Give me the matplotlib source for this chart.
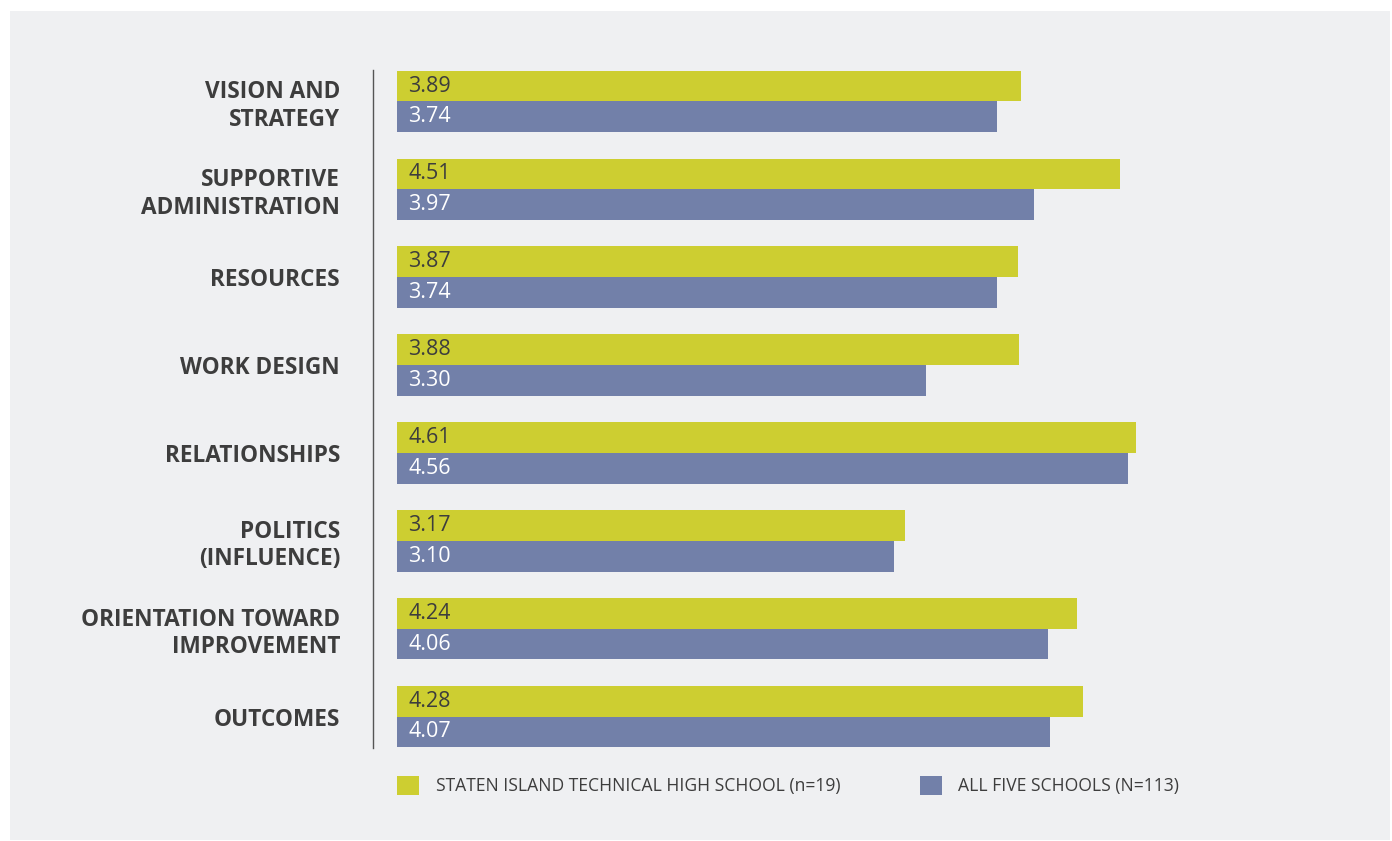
import numpy as np
import matplotlib.pyplot as plt
from matplotlib.patches import Rectangle

# Survey domain scores, one school vs. the five-school average
categories = [
    "VISION AND\nSTRATEGY",
    "SUPPORTIVE\nADMINISTRATION",
    "RESOURCES",
    "WORK DESIGN",
    "RELATIONSHIPS",
    "POLITICS\n(INFLUENCE)",
    "ORIENTATION TOWARD\nIMPROVEMENT",
    "OUTCOMES",
]
school_scores = [3.89, 4.51, 3.87, 3.88, 4.61, 3.17, 4.24, 4.28]
all_scores = [3.74, 3.97, 3.74, 3.30, 4.56, 3.10, 4.06, 4.07]
series_names = ["STATEN ISLAND TECHNICAL HIGH SCHOOL (n=19)", "ALL FIVE SCHOOLS (N=113)"]

YELLOW = "#cdce31"
BLUE = "#7280a9"
PANEL = "#eff0f2"
TEXT = "#3d3d3d"

W, H = 1392, 841
fig = plt.figure(figsize=(W / 100, H / 100), dpi=100, facecolor="white")
plt.rcParams['font.family'] = ['Open Sans', 'DejaVu Sans']

# light grey card behind the chart
fig.add_artist(Rectangle((10 / W, 1 - 840 / H), 1380 / W, 829 / H,
                         transform=fig.transFigure, facecolor=PANEL,
                         edgecolor="none", zorder=0))

# axes placed in pixel terms: bars start at x=396, rows span y=70..748
ax = fig.add_axes([396.5 / W, 1 - 748 / H, (1390 - 396.5) / W, (748 - 70) / H])
ax.set_facecolor("none")

y = np.arange(len(categories))
h = 0.35
ax.barh(y - h / 2, school_scores, height=h, color=YELLOW, label=series_names[0])
ax.barh(y + h / 2, all_scores, height=h, color=BLUE, label=series_names[1])

for yi, v in zip(y, school_scores):
    ax.annotate(f"{v:.2f}", (0, yi - h / 2), xytext=(8.3, 0), textcoords="offset points",
                va="center", ha="left", fontsize=15.5, color=TEXT)
for yi, v in zip(y, all_scores):
    ax.annotate(f"{v:.2f}", (0, yi + h / 2), xytext=(8.3, 0), textcoords="offset points",
                va="center", ha="left", fontsize=15.5, color="white")

ax.set_xlim(0, (1390 - 396.5) / 160.5)
ax.set_ylim(len(categories) - 1 + 0.3585, -0.3585)

for side in ["top", "right", "bottom"]:
    ax.spines[side].set_visible(False)
ax.spines["left"].set_position(("outward", 23.5 * 0.72))
ax.spines["left"].set_color("#555555")
ax.spines["left"].set_linewidth(1.0)

ax.set_xticks([])
ax.set_yticks(y)
ax.set_yticklabels(categories, fontsize=16.3, fontweight="bold", color=TEXT,
                   linespacing=1.2)
ax.tick_params(axis="y", length=0, pad=33 * 0.72)

fs = 12.65
em = fs / 0.72
leg = fig.legend(loc="upper left", bbox_to_anchor=(397 / W, 1 - 776 / H),
                 ncol=2, frameon=False, fontsize=fs, labelcolor=TEXT,
                 handlelength=22 / em, handleheight=22 / em,
                 handletextpad=17 / em, columnspacing=79 / em,
                 borderpad=0, borderaxespad=0)

fig.savefig("out.png", dpi=100, facecolor="white")
